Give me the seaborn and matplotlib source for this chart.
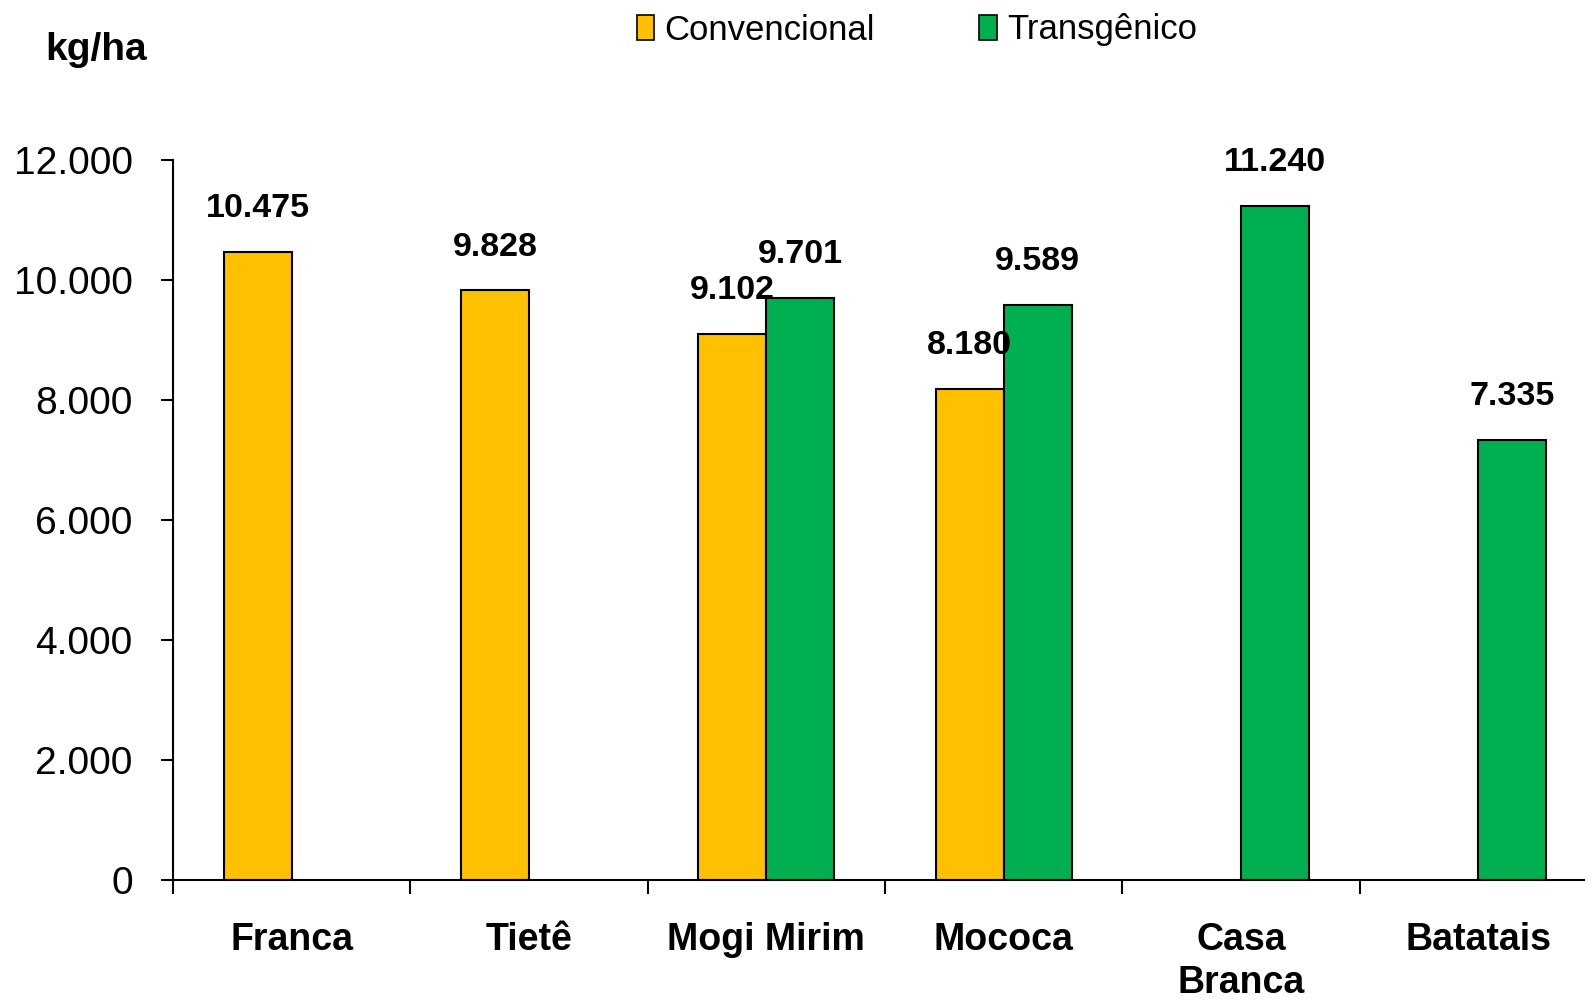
import numpy as np
import pandas as pd
import matplotlib
matplotlib.use("Agg")
import matplotlib.pyplot as plt
from matplotlib.patches import Patch
from matplotlib.ticker import FuncFormatter
import seaborn as sns

# produtividade (kg/ha) por municipio
municipios = ["Franca", "Tietê", "Mogi Mirim", "Mococa", "Casa Branca", "Batatais"]
rotulos = ["Franca", "Tietê", "Mogi Mirim", "Mococa", "Casa\nBranca", "Batatais"]
convencional = [10475, 9828, 9102, 8180, np.nan, np.nan]
transgenico = [np.nan, np.nan, 9701, 9589, 11240, 7335]
tipos = ["Convencional", "Transgênico"]
cores = ["#FFC000", "#00B050"]

df = pd.DataFrame({
    "municipio": municipios * 2,
    "tipo": [tipos[0]] * len(municipios) + [tipos[1]] * len(municipios),
    "kg_ha": convencional + transgenico,
}).dropna()


def milhar(v, pos=None):
    return f"{v:,.0f}".replace(",", ".")


sns.set_style("white")
plt.rcParams["font.family"] = ["Liberation Sans", "DejaVu Sans"]
plt.rcParams["text.color"] = "black"
plt.rcParams["xtick.color"] = "black"
plt.rcParams["ytick.color"] = "black"

fig = plt.figure(figsize=(15.85, 10.01), dpi=100)
ax = fig.add_axes([173 / 1585, 121 / 1001, 1424 / 1585, 720 / 1001])

sns.barplot(
    data=df, x="municipio", y="kg_ha", hue="tipo",
    order=municipios, hue_order=tipos, palette=cores, saturation=1,
    width=0.573, edgecolor="black", linewidth=1.5,
    legend=False, ax=ax,
)

for cont in ax.containers:
    labels = [milhar(b.get_height()) for b in cont]
    ax.bar_label(cont, labels=labels, padding=20, fontsize=24.5,
                 fontweight="bold", color="black")

ax.set_xlim(-0.5, 5.5)
ax.set_ylim(0, 12000)
ax.set_yticks(np.arange(0, 12001, 2000))
ax.yaxis.set_major_formatter(FuncFormatter(milhar))
ax.tick_params(axis="y", direction="out", length=9, width=1.5, pad=20,
               labelsize=28, left=True, color="black", labelcolor="black")

ax.set_xticks(np.arange(-0.5, 6, 1))
ax.set_xticklabels([])
ax.set_xticks(range(len(municipios)), minor=True)
ax.set_xticklabels(rotulos, minor=True, fontsize=27, fontweight="bold",
                   linespacing=1.25, color="black")
ax.tick_params(axis="x", which="major", direction="out", length=10,
               width=1.5, bottom=True, color="black")
ax.tick_params(axis="x", which="minor", length=0, pad=30)

ax.set_xlabel("")
ax.set_ylabel("")
for s in ["top", "right"]:
    ax.spines[s].set_visible(False)
for s in ["left", "bottom"]:
    ax.spines[s].set_color("black")
    ax.spines[s].set_linewidth(1.5)

fig.text(45 / 1585, 1 - 50 / 1001, "kg/ha", fontsize=28, fontweight="bold",
         va="center", ha="left", color="black")

handles = [Patch(facecolor=c, edgecolor="black", linewidth=1.2, label=t)
           for c, t in zip(cores, tipos)]
fig.legend(handles=handles, loc="center", bbox_to_anchor=(917 / 1585, 1 - 30 / 1001),
           ncol=2, frameon=False, fontsize=25, handlelength=0.5,
           handleheight=0.7, handletextpad=0.3, columnspacing=3.0)

fig.savefig("out.png", dpi=100)
